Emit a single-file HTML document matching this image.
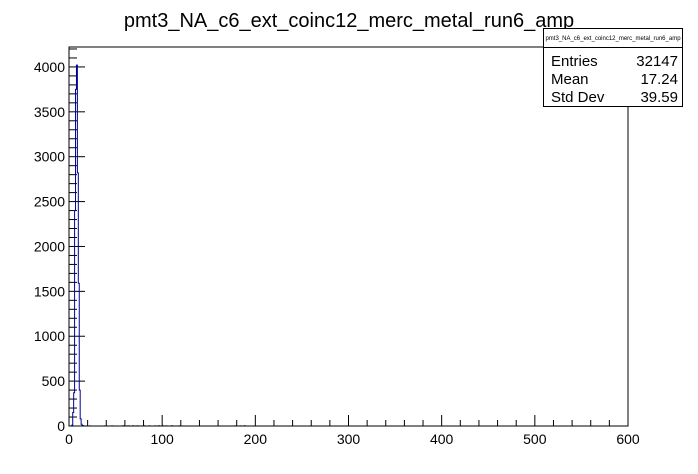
<!DOCTYPE html>
<html><head><meta charset="utf-8"><style>
body{margin:0;background:#fff;}
svg{display:block;font-family:"Liberation Sans",sans-serif;}
</style></head><body>
<svg id="chart" width="698" height="474" viewBox="0 0 698 474">
<rect width="698" height="474" fill="#fff"/>
<text x="349" y="27" font-size="20" text-anchor="middle">pmt3_NA_c6_ext_coinc12_merc_metal_run6_amp</text>
<g id="axes"></g>
<path id="hist" fill="none" stroke="#000099" stroke-width="1"/>
<rect x="69" y="47" width="559" height="379" fill="none" stroke="#000"/>
<g>
<rect x="543.5" y="28.5" width="139" height="78" fill="#fff" stroke="#000"/>
<line x1="543.5" y1="47.5" x2="682.5" y2="47.5" stroke="#000"/>
<text x="613" y="40" font-size="6" text-anchor="middle">pmt3_NA_c6_ext_coinc12_merc_metal_run6_amp</text>
<text x="551" y="66" font-size="15">Entries</text><text x="678" y="66" font-size="15" text-anchor="end">32147</text>
<text x="551" y="84" font-size="15">Mean</text><text x="678" y="84" font-size="15" text-anchor="end">17.24</text>
<text x="551" y="102" font-size="15">Std Dev</text><text x="678" y="102" font-size="15" text-anchor="end">39.59</text>
</g>
</svg>
<script>
const binStarts=[3,4,5,6,7,8,9,10,11,12,13,14,15,22,38,46,58,62,64,68,72,74,80,86,92,96,100,104,110,118,178,184,188];
const counts=[10,150,370,2400,3750,4020,2820,1590,400,80,20,5,3,2,2,2,3,2,2,3,2,2,3,2,2,3,3,2,3,2,2,2,3];
const xTicks=[0,100,200,300,400,500,600];
const yTicks=[0,500,1000,1500,2000,2500,3000,3500,4000];
const X0=69,X1=628,Y0=426,Y1=47,XMAX=600,YMAX=4222;
const sx=v=>X0+v*(X1-X0)/XMAX, sy=v=>Y0-v*(Y0-Y1)/YMAX;
const ns="http://www.w3.org/2000/svg",ax=document.getElementById('axes');
function mk(t,a){const e=document.createElementNS(ns,t);for(const k in a)e.setAttribute(k,a[k]);ax.appendChild(e);return e;}
for(let v=0;v<=600;v+=20){const big=v%100===0;const l=mk('line',{x1:sx(v),x2:sx(v),y1:Y0,y2:Y0-(big?11:6),stroke:'#000'});

}
xTicks.forEach(v=>{const t=mk('text',{x:sx(v),y:Y0+18,'font-size':14,'text-anchor':'middle'});t.textContent=v;

});
for(let v=0;v<=4200;v+=100){const big=v%500===0;const l=mk('line',{x1:X0,x2:X0+(big?16:8),y1:sy(v),y2:sy(v),stroke:'#000'});

}
yTicks.forEach(v=>{const t=mk('text',{x:X0-4,y:sy(v)+5,'font-size':14,'text-anchor':'end'});t.textContent=v;

});
let d='M'+sx(0)+','+Y0;
binStarts.forEach((b,i)=>{const s=sx(b),e=sx(b+1);
if(i>0&&binStarts[i-1]+1!==b){d+=' L'+sx(binStarts[i-1]+1)+','+Y0;}
d+=' L'+s+','+(i>0&&binStarts[i-1]+1===b?sy(counts[i-1]):Y0)+' L'+s+','+sy(counts[i])+' L'+e+','+sy(counts[i]);});
d+=' L'+sx(binStarts[binStarts.length-1]+1)+','+Y0+' L'+sx(600)+','+Y0;
document.getElementById('hist').setAttribute('d',d);
</script>
</body></html>
